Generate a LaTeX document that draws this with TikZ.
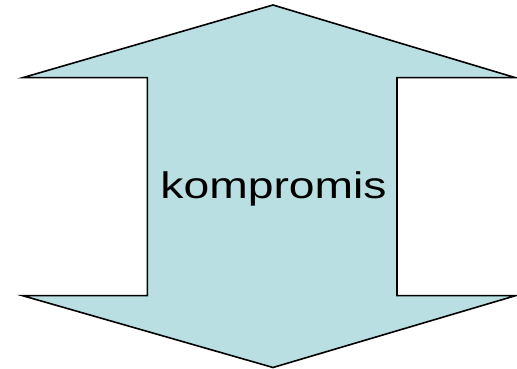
\documentclass[tikz,border=0pt]{standalone}
\usepackage{fontspec}
\setmainfont{Liberation Sans}
\usepackage{tikz}
\usetikzlibrary{positioning,calc}
\definecolor{arrowfill}{HTML}{B9DFE2}
\tikzset{
updown/.style = {draw=black, fill=arrowfill, line width=1.6pt, line join=miter},
label/.style = {align=center, inner sep=0pt, anchor=base, font=\fontsize{37}{40}\selectfont, xscale=1.25},
}

\begin{document}
\begin{tikzpicture}[x=1pt, y=1pt]
    \useasboundingbox (0,0) rectangle (517,369);
    \coordinate (top) at (273,364);
    \coordinate (bottom) at (273,1.5);

    \draw [updown] (top) -- (515.5,291.3) -- (397,291.3) -- (397,73.3) -- (515.5,73.3)
       -- (bottom) -- (22.7,73.3) -- (147.3,73.3) -- (147.3,291.3) -- (22.7,291.3) -- cycle;

    \node [label] (comp) at (273.5,170.7) {kompromis};
\end{tikzpicture}
\end{document}
